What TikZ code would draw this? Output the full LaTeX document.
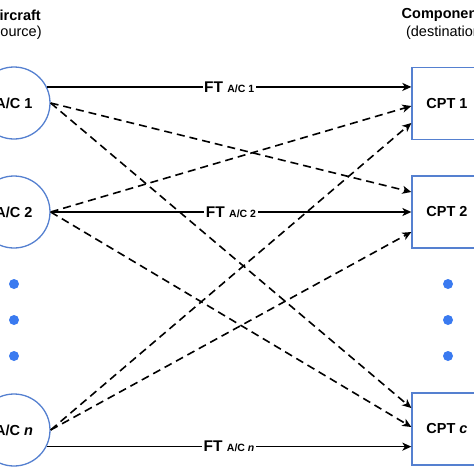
\documentclass[tikz,border=0pt]{standalone}
\usepackage{fontspec}
\setmainfont{Liberation Sans}
\usetikzlibrary{arrows.meta}
\definecolor{nodeblue}{HTML}{5580D0}
\definecolor{dotblue}{HTML}{3A7AF0}
\begin{document}
\begin{tikzpicture}[x=1pt,y=-1pt,
  src/.style={circle,draw=nodeblue,line width=1.3pt,minimum size=72pt,inner sep=0pt,
    font=\fontsize{14.5}{17}\selectfont\bfseries},
  dst/.style={rectangle,draw=nodeblue,line width=1.3pt,minimum width=70pt,minimum height=72pt,inner sep=0pt,
    font=\fontsize{14.5}{17}\selectfont\bfseries},
  flow/.style={line width=1.6pt,-{Stealth[length=9pt,width=8pt,inset=2.5pt]}},
  alt/.style={flow,dash pattern=on 8pt off 5pt},
  lbl/.style={fill=white,inner sep=1.5pt,font=\fontsize{15.5}{18}\selectfont\bfseries},
  dotn/.style={circle,fill=dotblue,minimum size=10pt,inner sep=0pt},
  headb/.style={font=\fontsize{14.5}{17}\selectfont\bfseries,inner sep=0pt},
  headr/.style={font=\fontsize{14.5}{17}\selectfont,inner sep=0pt}]
\useasboundingbox (0,0) rectangle (474,474);

% headers
\node[headb] (hs) at (15,15) {Aircraft};
\node[headr] (hs2) at (15,33) {(source)};
\node[headb] (hd) at (446,15) {Components};
\node[headr] (hd2) at (446,33) {(destination)};

% sources
\node[src] (c1) at (14,103) {A/C 1};
\node[src] (c2) at (14,212) {A/C 2};
\node[src] (cn) at (14,430) {A/C \textit{n}};

% destinations
\node[dst] (b1) at (447,103.5) {CPT 1};
\node[dst] (b2) at (447,212) {CPT 2};
\node[dst] (bc) at (447,429) {CPT \textit{c}};

% dots
\node[dotn] (dl1) at (14,284) {};
\node[dotn] (dl2) at (14,320) {};
\node[dotn] (dl3) at (14,356) {};
\node[dotn] (dr1) at (448,284) {};
\node[dotn] (dr2) at (448,320) {};
\node[dotn] (dr3) at (448,356) {};

% solid flows
\draw[flow] (c1.26) -- (c1.26 -| b1.west)
  node[lbl,midway] (l1) {FT {\fontsize{10.5}{12}\selectfont A/C 1}};
\draw[flow] (c2.east) -- (b2.west)
  node[lbl,midway] (l2) {FT {\fontsize{10.5}{12}\selectfont A/C 2}};
\draw[flow] (cn.-27.5) -- (cn.-27.5 -| bc.west)
  node[lbl,midway] (ln) {FT {\fontsize{10.5}{12}\selectfont A/C \textit{n}}};

% dashed flows
\draw[alt] (c1.east) -- ([yshift=20pt]b2.west);
\draw[alt] (c1.east) -- ([yshift=21pt]bc.west);
\draw[alt] (c2.east) -- ([yshift=-2.5pt]b1.west);
\draw[alt] (c2.east) -- ([yshift=2pt]bc.west);
\draw[alt] (cn.east) -- ([yshift=-19.5pt]b1.west);
\draw[alt] (cn.east) -- ([yshift=-20pt]b2.west);
\end{tikzpicture}
\end{document}
